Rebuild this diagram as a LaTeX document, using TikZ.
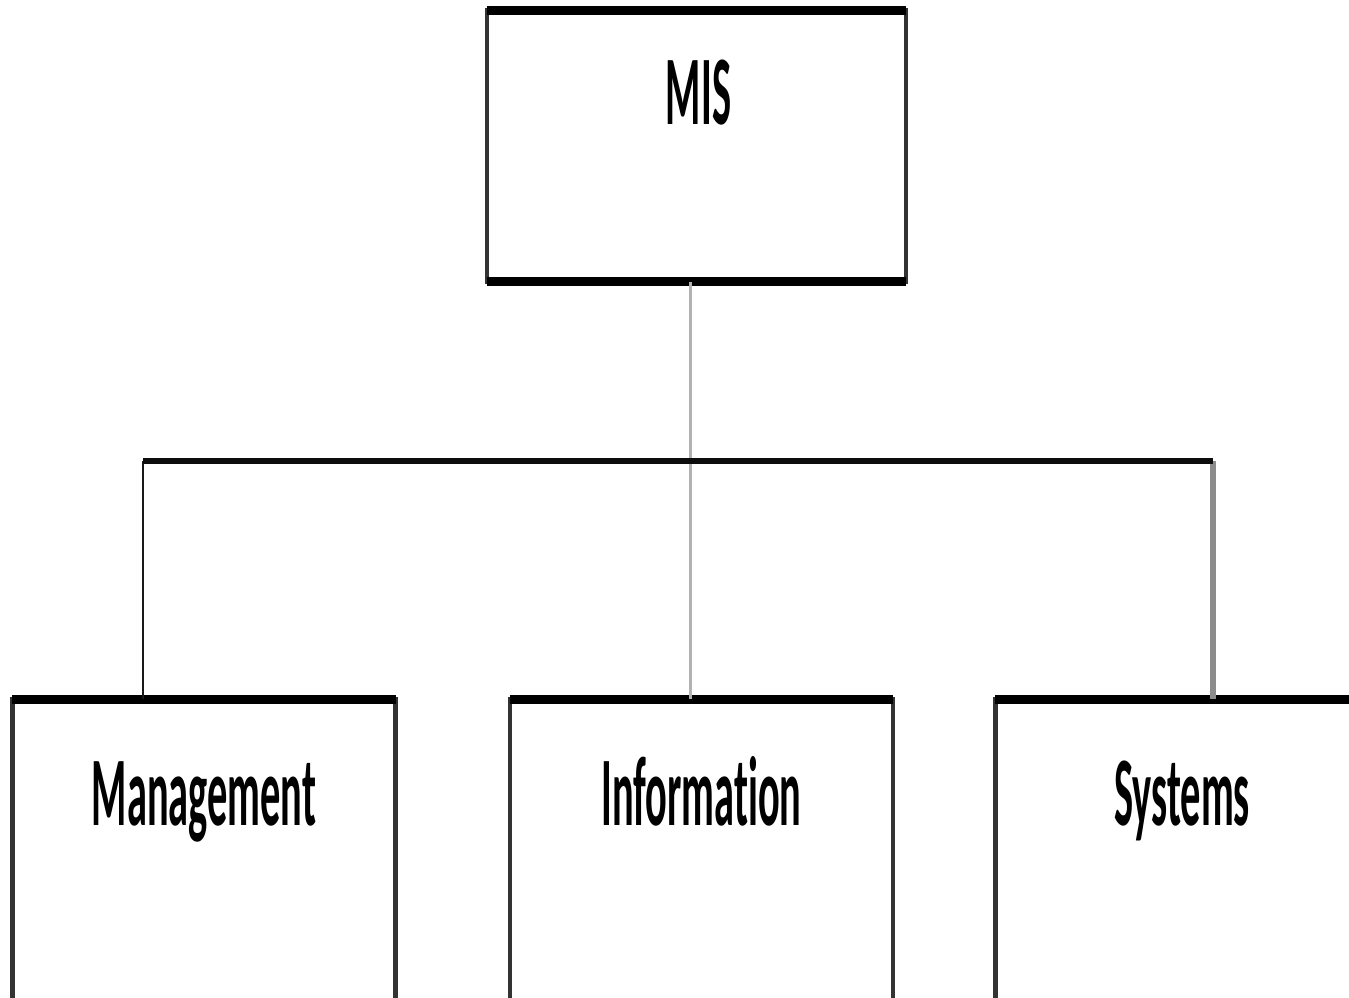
\documentclass[tikz,border=0pt]{standalone}
\usepackage{fontspec}
\setmainfont[Ligatures=NoCommon]{Carlito}
\usepackage{tikz}
\usetikzlibrary{positioning}
\newcommand{\squeeze}[1]{\scalebox{0.41}[1]{#1}}

\begin{document}
\begin{tikzpicture}[x=0.01cm,y=-0.01cm,
    unit/.style={draw=black!80,line width=1.3pt,rectangle,inner sep=0pt,outer sep=0pt},
    topunit/.style={unit,minimum width=4.19cm,minimum height=2.71cm},
    subunit/.style={unit,minimum width=3.83cm,minimum height=3.2cm},
    rule/.style={line width=2.5pt,black},
    lbl/.style={inner sep=0pt,text height=18pt,font=\bfseries\fontsize{28}{30}\selectfont}]
  \clip (0,0) rectangle (1349,997);
  \fill[white] (0,0) rectangle (1349,997);
  % boxes
  \node[topunit] (mis)  at (696.5,146)  {};
  \node[subunit] (mgmt) at (204,859.5)  {};
  \node[subunit] (info) at (701.5,859.5) {};
  \node[subunit] (sys)  at (1187,859.5) {};
  \foreach \b in {mis,mgmt,info,sys}
    \draw[rule] (\b.north west) -- (\b.north east)
                (\b.south west) -- (\b.south east);
  % labels
  \node[lbl,below=0.5cm of mis.north,xshift=0.02cm] (mislbl)  {\squeeze{MIS}};
  \node[lbl,below=0.62cm of mgmt.north] (mgmtlbl) {\squeeze{Management}};
  \node[lbl,below=0.62cm of info.north] (infolbl) {\squeeze{Information}};
  \node[lbl,below=0.62cm of sys.north,xshift=-0.05cm] (syslbl) {\squeeze{Systems}};
  % connectors
  \coordinate (busL) at (143,461);
  \coordinate (hub)  at (690,461);
  \coordinate (busR) at (1213,461);
  \draw[line width=0.85pt,black!30] (hub |- mis.south) -- (hub |- info.north);
  \draw[line width=0.85pt,black!90] (busL) -- (busL |- mgmt.north);
  \draw[line width=1.7pt,black!45] (busR) -- (busR |- sys.north);
  \draw[line width=1.7pt,black!95] (busL) -- (busR);
\end{tikzpicture}
\end{document}
